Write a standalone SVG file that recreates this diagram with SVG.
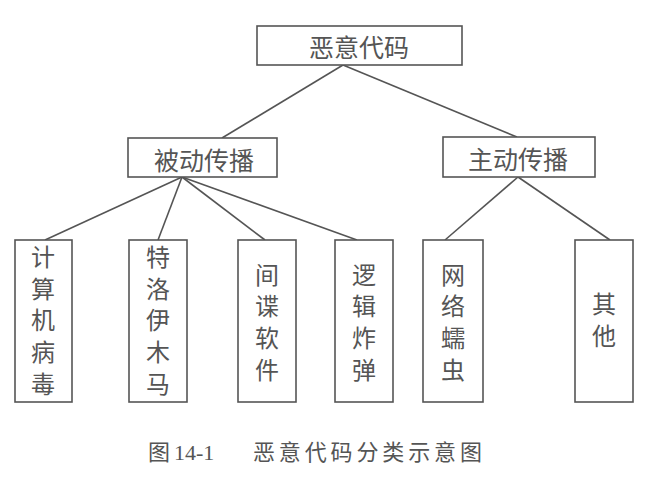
<svg xmlns="http://www.w3.org/2000/svg" width="647" height="481" viewBox="0 0 647 481">
<style>
.box{fill:#fff;stroke:#555;stroke-width:1.6}
.t{font-family:"Noto Sans CJK SC","Liberation Sans",sans-serif;fill:#555;text-anchor:middle}
.h{font-size:25px;dominant-baseline:central}
.v{font-size:24px;writing-mode:vertical-rl;text-orientation:upright;letter-spacing:7.7px}
.cap{font-family:"Liberation Serif","Noto Sans CJK SC",serif;fill:#555;font-size:22px;dominant-baseline:central}
#connectors line{stroke:#555;stroke-width:1.6}
</style>
<rect width="647" height="481" fill="#fff"/>
<g id="connectors">
<line x1="343" y1="65" x2="222" y2="138"/>
<line x1="343" y1="65" x2="517" y2="137"/>
<line x1="182" y1="177" x2="45" y2="240"/>
<line x1="182" y1="177" x2="158" y2="240"/>
<line x1="182" y1="177" x2="265" y2="240"/>
<line x1="182" y1="177" x2="357" y2="240"/>
<line x1="518" y1="177" x2="445" y2="240"/>
<line x1="518" y1="177" x2="610" y2="240"/>
</g>
<g id="root"><rect class="box" x="257" y="26" width="205" height="39"/><text class="t h" x="359" y="46">恶意代码</text></g>
<g id="passive"><rect class="box" x="128" y="138" width="149" height="39"/><text class="t h" x="204" y="159">被动传播</text></g>
<g id="active"><rect class="box" x="443" y="137" width="152" height="40"/><text class="t h" x="518" y="158">主动传播</text></g>
<g id="virus"><rect class="box" x="15" y="240" width="57" height="162"/><text class="t v" x="43" y="324">计算机病毒</text></g>
<g id="trojan"><rect class="box" x="129" y="240" width="58" height="162"/><text class="t v" x="158" y="324">特洛伊木马</text></g>
<g id="spyware"><rect class="box" x="238" y="240" width="58" height="162"/><text class="t v" x="267" y="326">间谍软件</text></g>
<g id="logicbomb"><rect class="box" x="335" y="240" width="58" height="162"/><text class="t v" x="364" y="326">逻辑炸弹</text></g>
<g id="worm"><rect class="box" x="423" y="240" width="60" height="162"/><text class="t v" x="453" y="326">网络蠕虫</text></g>
<g id="other"><rect class="box" x="575" y="240" width="58" height="162"/><text class="t v" x="604" y="324">其他</text></g>
<g id="caption">
<text class="cap" x="148" y="452">图</text>
<text class="cap" x="174" y="452">14-1</text>
<text class="cap" x="253" y="452" textLength="229" lengthAdjust="spacing">恶意代码分类示意图</text>
</g>
</svg>
